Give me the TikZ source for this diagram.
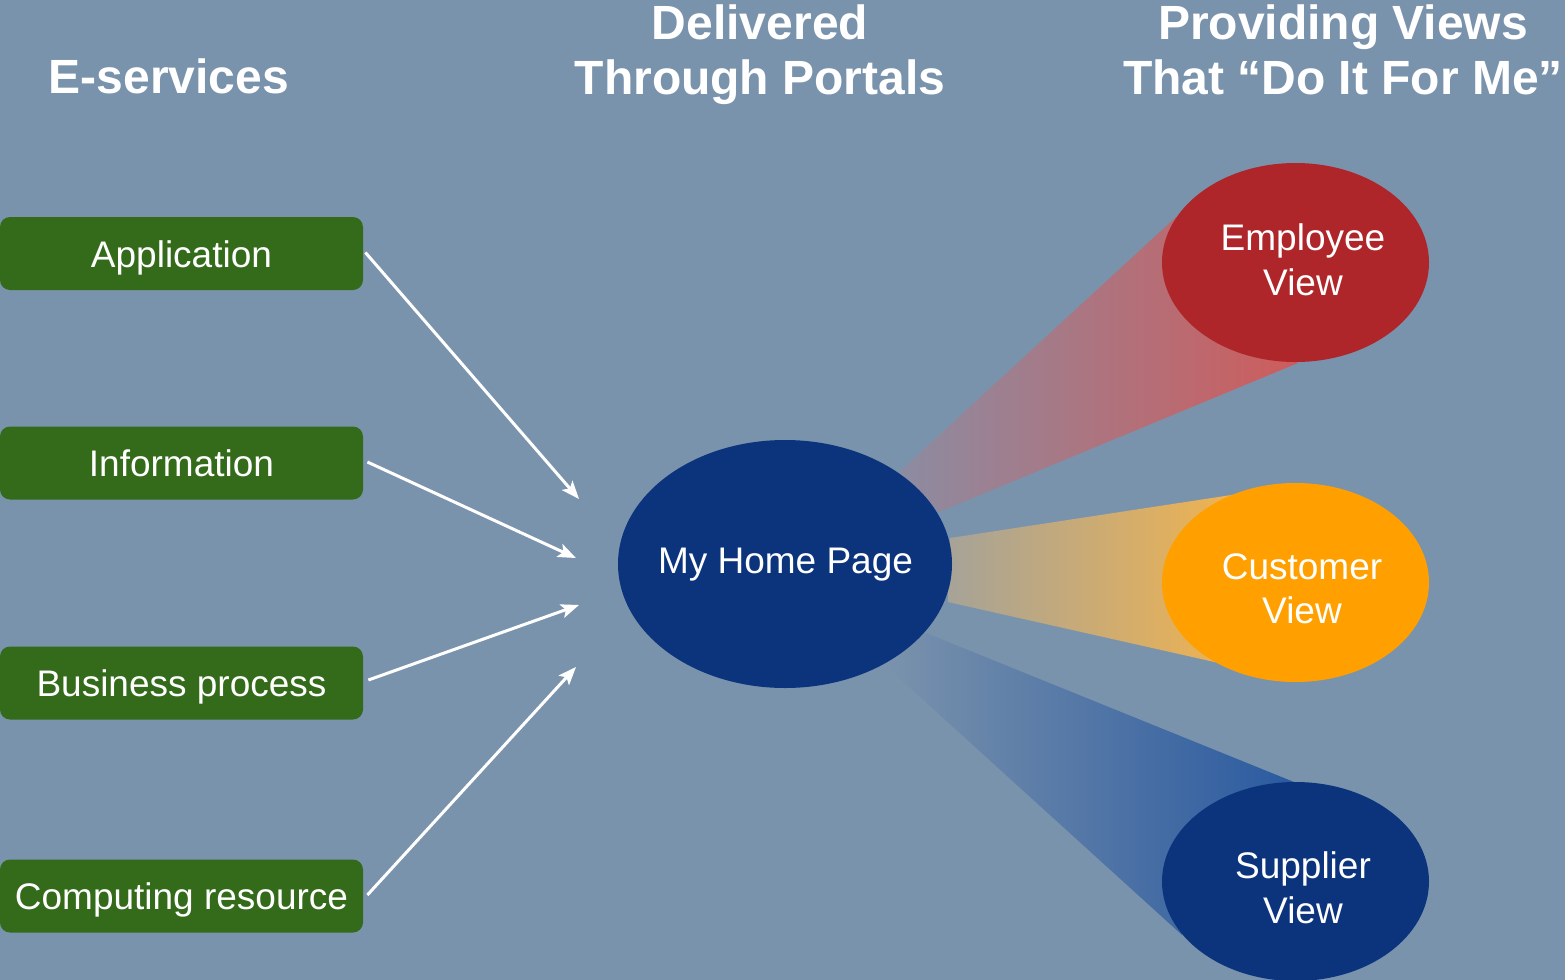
\documentclass[tikz,border=0pt]{standalone}
\usepackage{fontspec}
\setmainfont{Liberation Sans}
\usetikzlibrary{arrows.meta,shapes.geometric}
\definecolor{bg}{HTML}{7A93AD}
\definecolor{boxgreen}{HTML}{336B1A}
\definecolor{navy}{HTML}{0B347D}
\definecolor{redv}{HTML}{AE2629}
\definecolor{orangev}{HTML}{FFA000}
\definecolor{redL}{RGB}{140,140,162}
\definecolor{redR}{RGB}{206,92,92}
\definecolor{oraL}{RGB}{166,163,152}
\definecolor{oraR}{RGB}{244,180,76}
\definecolor{bluL}{RGB}{122,146,172}
\definecolor{bluR}{RGB}{42,90,160}
\tikzset{
  svc/.style={draw=none, fill=boxgreen, rounded corners=5pt, minimum width=181.5pt, minimum height=36.5pt, text=white, font=\fontsize{18.5}{22}\selectfont, inner sep=0pt, text height=17pt, text depth=3.2pt},
  oval/.style={ellipse, draw=none, minimum width=133.5pt, minimum height=99.5pt, inner sep=0pt},
  lbl/.style={text=white, anchor=base, inner sep=0pt, font=\fontsize{18.5}{22}\selectfont},
  title/.style={text=white, anchor=base, inner sep=0pt, font=\fontsize{24}{28}\selectfont\bfseries},
  feed/.style={white, line width=1.5pt, -{Stealth[length=9pt,width=7pt,inset=2pt]}}
}
\begin{document}
\begin{tikzpicture}[x=0.5pt,y=-0.5pt]
\useasboundingbox (0,0) rectangle (1565,980);
\fill[bg] (0,0) rectangle (1565,980);
\clip (0,0) rectangle (1565,980);
% titles
\node[title] (t1) at (169,93) {E-services};
\node[title] (t2a) at (760,39) {Delivered};
\node[title] (t2b) at (760,94) {Through Portals};
\node[title] (t3a) at (1343,39) {Providing Views};
\node[title] (t3b) at (1343,94) {That “Do It For Me”};
% beams
\shade[left color=redL, right color=redR] (898,473) -- (1176,217) -- (1298,363) -- (939,512) -- cycle;
\shade[left color=oraL, right color=oraR] (950,538) -- (1251,492) -- (1219,663) -- (948,602) -- cycle;
\shade[left color=bluL, right color=bluR] (926,633) -- (1294,782) -- (1182,935) -- (887,667) -- cycle;
% boxes
\node[svc] (app) at (181.5,253.5) {Application};
\node[svc] (info) at (181.5,463) {Information};
\node[svc] (bp) at (181.5,683) {Business process};
\node[svc] (cr) at (181.5,896) {Computing resource};
% center
\node[ellipse, fill=navy, minimum width=167pt, minimum height=124pt, inner sep=0pt] (home) at (785,564) {};
\node[lbl] (homeT) at (785.5,573) {My Home Page};
% views
\node[oval, fill=redv] (emp) at (1295.5,262.5) {};
\node[oval, fill=orangev] (cus) at (1295.5,582.5) {};
\node[oval, fill=navy] (sup) at (1295.5,881.5) {};
\node[lbl] (empA) at (1303,250) {Employee};
\node[lbl] (empB) at (1303,295) {View};
\node[lbl] (cusA) at (1302,579) {Customer};
\node[lbl] (cusB) at (1302,623) {View};
\node[lbl] (supA) at (1303,878) {Supplier};
\node[lbl] (supB) at (1303,923) {View};
% arrows
\coordinate (e1) at (579,499);
\coordinate (e2) at (576,558);
\coordinate (e3) at (579,605);
\coordinate (e4) at (576,667);
\draw[feed] (app.east) ++(2,-1) -- (e1);
\draw[feed] (info.east) ++(4,-1) -- (e2);
\draw[feed] (bp.east) ++(5,-3) -- (e3);
\draw[feed] (cr.east) ++(4,-1) -- (e4);
\end{tikzpicture}
\end{document}
